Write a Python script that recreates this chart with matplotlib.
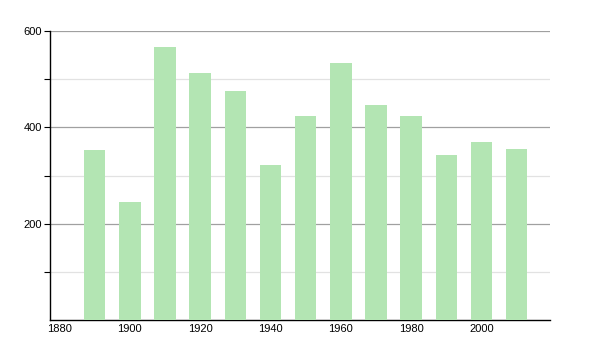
import matplotlib
matplotlib.use("Agg")
import matplotlib.pyplot as plt
from matplotlib.ticker import MultipleLocator, FixedLocator

years = [1890, 1900, 1910, 1920, 1930, 1940, 1950, 1960, 1970, 1980, 1990, 2000, 2010]
values = [353, 244, 567, 512, 476, 322, 423, 533, 446, 424, 342, 369, 355]
xticks = [1880, 1900, 1920, 1940, 1960, 1980, 2000]
yticks = [200, 400, 600]

plt.rcParams['font.family'] = ['Liberation Sans', 'DejaVu Sans']

fig = plt.figure(figsize=(6, 3.5), dpi=100)
ax = fig.add_axes([50/600, 30/350, 500/600, 289/350])

ax.bar(years, values, width=6.1, color='#b3e5b3', zorder=3)

ax.set_xlim(1877.3, 2019.5)
ax.set_ylim(0, 600)

ax.yaxis.set_major_locator(FixedLocator(yticks))
ax.yaxis.set_minor_locator(FixedLocator([100, 300, 500]))
ax.xaxis.set_major_locator(FixedLocator(xticks))

ax.grid(axis='y', which='major', color='#a0a0a0', linewidth=0.9, zorder=0)
ax.grid(axis='y', which='minor', color='#e2e2e2', linewidth=0.9, zorder=0)

for s in ['top', 'right']:
    ax.spines[s].set_visible(False)
ax.spines['left'].set_color('black')
ax.spines['bottom'].set_color('black')
ax.spines['left'].set_linewidth(1.0)
ax.spines['bottom'].set_linewidth(1.0)

ax.tick_params(axis='y', which='major', length=4, width=0.8, labelsize=8, pad=2, color='black')
ax.tick_params(axis='y', which='minor', length=4, width=0.8, color='black')
ax.tick_params(axis='x', which='major', length=0, labelsize=8, pad=3)

fig.savefig('out.png', dpi=100)
